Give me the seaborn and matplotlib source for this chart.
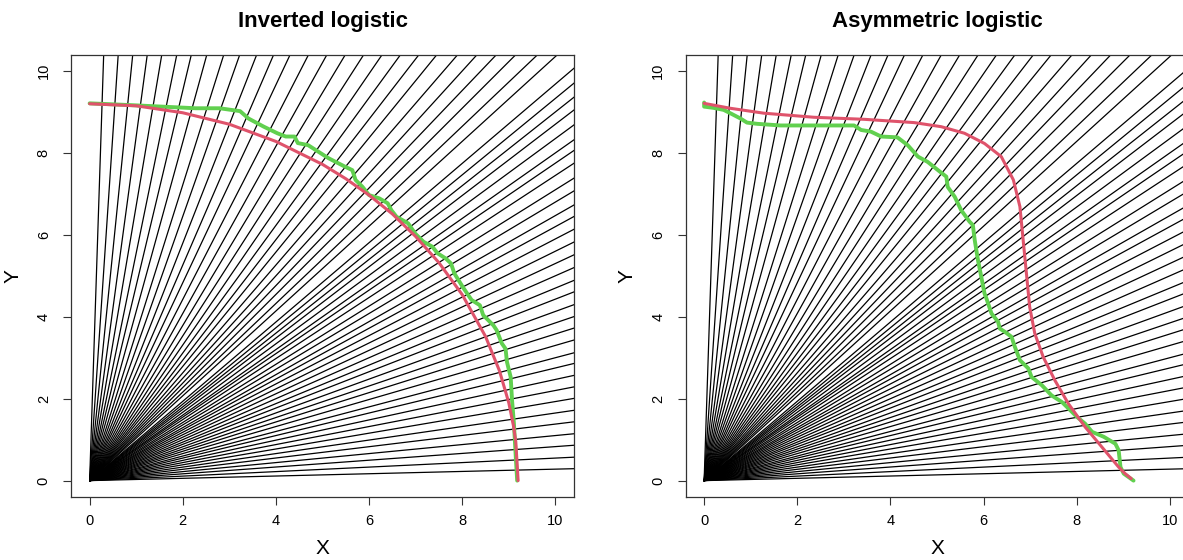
import numpy as np
import pandas as pd
import matplotlib
matplotlib.use("Agg")
import matplotlib.pyplot as plt
import seaborn as sns

# ---------------- data ----------------
titles = ["Inverted logistic", "Asymmetric logistic"]

# rays from the origin: slopes y/x of rays below the diagonal,
# and slopes x/y of rays above the diagonal
ray_slope_low = [0.028, 0.055, 0.083, 0.11, 0.138, 0.165, 0.193, 0.22, 0.247, 0.275,
                 0.30, 0.33, 0.358, 0.385, 0.413, 0.443, 0.47, 0.50, 0.53, 0.56,
                 0.59, 0.62, 0.647, 0.68, 0.71, 0.745, 0.775, 0.80, 0.835, 0.87,
                 0.90, 0.933, 0.968]
ray_slope_high = [0.029, 0.059, 0.089, 0.119, 0.149, 0.18, 0.21, 0.242, 0.277, 0.31,
                  0.345, 0.38, 0.414, 0.452, 0.49, 0.528, 0.566, 0.604, 0.642, 0.68,
                  0.717, 0.76, 0.80, 0.84, 0.88, 0.925, 0.966]

# left panel: true (red) and estimated (green) curves
inv_true_x = [0.0, 1.0, 2.0, 3.0, 4.0, 5.0, 5.5, 6.0, 6.5, 7.0, 7.5, 8.0, 8.5, 8.8, 9.0, 9.1, 9.15, 9.2]
inv_true_y = [9.2, 9.15, 8.98, 8.70, 8.28, 7.72, 7.37, 6.97, 6.51, 5.96, 5.32, 4.54, 3.52, 2.68, 1.90, 1.34, 0.95, 0.0]
inv_est_x = [0.0, 0.82, 1.55, 2.28, 2.79, 3.23, 3.41, 3.74, 4.03, 4.21, 4.40, 4.47, 4.69, 4.91,
             5.13, 5.49, 5.64, 5.71, 5.86, 6.0, 6.22, 6.40, 6.48, 6.59, 6.84, 6.99, 7.17,
             7.36, 7.47, 7.65, 7.76, 7.83, 8.01, 8.20, 8.38, 8.45, 8.67, 8.74, 8.85,
             8.93, 8.96, 9.04, 9.07, 9.11, 9.15, 9.18]
inv_est_y = [9.21, 9.17, 9.13, 9.09, 9.09, 9.02, 8.84, 8.64, 8.48, 8.40, 8.40, 8.24, 8.19, 8.03,
             7.87, 7.66, 7.58, 7.34, 7.17, 6.97, 6.89, 6.77, 6.60, 6.44, 6.28, 6.03, 5.83,
             5.71, 5.55, 5.42, 5.30, 5.06, 4.73, 4.41, 4.28, 4.04, 3.79, 3.67, 3.35,
             3.22, 2.90, 2.53, 1.96, 1.39, 0.58, 0.0]

# right panel: true (red) and estimated (green) curves
alog_true_x = [0.0, 0.56, 1.28, 2.36, 3.44, 4.51, 5.09, 5.59, 6.02, 6.38, 6.64, 6.78, 6.85,
               6.92, 6.99, 7.10, 7.28, 7.53, 7.82, 8.18, 8.54, 8.90, 9.04, 9.17]
alog_true_y = [9.21, 9.09, 8.97, 8.87, 8.82, 8.74, 8.64, 8.48, 8.23, 7.91, 7.34, 6.69, 5.87,
               5.06, 4.24, 3.59, 3.02, 2.45, 1.88, 1.31, 0.82, 0.33, 0.17, 0.05]
alog_est_x = [0.0, 0.0, 0.2, 0.42, 0.56, 0.78, 0.92, 1.14, 1.64, 2.36, 3.22, 3.37, 3.58, 3.80,
              4.15, 4.37, 4.59, 4.80, 5.02, 5.20, 5.23, 5.38, 5.52, 5.70, 5.77, 5.81, 5.88,
              5.95, 6.02, 6.06, 6.17, 6.31, 6.35, 6.46, 6.60, 6.67, 6.78, 6.96, 7.03, 7.25,
              7.46, 7.68, 7.86, 8.0, 8.18, 8.33, 8.58, 8.83, 8.90, 8.94, 9.01, 9.22]
alog_est_y = [9.23, 9.13, 9.10, 9.05, 8.97, 8.84, 8.74, 8.71, 8.67, 8.67, 8.67, 8.56, 8.52, 8.40,
              8.38, 8.19, 7.91, 7.78, 7.58, 7.42, 7.17, 6.93, 6.60, 6.32, 6.24, 5.87, 5.38,
              4.98, 4.57, 4.45, 4.08, 3.88, 3.71, 3.63, 3.51, 3.27, 2.94, 2.74, 2.53, 2.33,
              2.08, 1.92, 1.72, 1.56, 1.39, 1.19, 1.07, 0.90, 0.74, 0.33, 0.17, 0.0]

x_ticks = [0, 2, 4, 6, 8, 10]
y_ticks = [0, 2, 4, 6, 8, 10]

# ---------------- style ----------------
sns.set_theme(style="white")
plt.rcParams["font.family"] = ["Liberation Sans", "DejaVu Sans"]
plt.rcParams["text.color"] = "black"
plt.rcParams["axes.labelcolor"] = "black"
plt.rcParams["xtick.color"] = "black"
plt.rcParams["ytick.color"] = "black"

RED = "#DF536B"
GREEN = "#61D04F"

W, H = 1183, 560
fig = plt.figure(figsize=(W / 100, H / 100), dpi=100)

# ray table
ray_rows = []
L = 30.0
rid = 0
for s in ray_slope_low:
    ray_rows += [(rid, 0.0, 0.0), (rid, L, L * s)]
    rid += 1
for s in ray_slope_high:
    ray_rows += [(rid, 0.0, 0.0), (rid, L * s, L)]
    rid += 1
rays = pd.DataFrame(ray_rows, columns=["ray", "x", "y"])

curves = [
    (inv_true_x, inv_true_y, inv_est_x, inv_est_y),
    (alog_true_x, alog_true_y, alog_est_x, alog_est_y),
]

ax_left_px = [71.0, 685.5]
ax_w_px = 503.0
ax_top_px, ax_bot_px = 54.6, 497.0

for i in range(2):
    x0 = ax_left_px[i] / W
    y0 = (H - ax_bot_px) / H
    ax = fig.add_axes([x0, y0, ax_w_px / W, (ax_bot_px - ax_top_px) / H])
    sns.lineplot(data=rays, x="x", y="y", units="ray", estimator=None, sort=False,
                 color="black", linewidth=0.9, ax=ax, legend=False)
    tx, ty, ex, ey = curves[i]
    sns.lineplot(x=ex, y=ey, sort=False, estimator=None, color=GREEN, linewidth=2.8,
                 ax=ax, legend=False)
    sns.lineplot(x=tx, y=ty, sort=False, estimator=None, color=RED, linewidth=2.2,
                 ax=ax, legend=False)
    ax.set_xlim(-0.4, 10.4)
    ax.set_ylim(-0.4, 10.4)
    ax.set_xticks(x_ticks)
    ax.set_yticks(y_ticks)
    ax.set_xticklabels([str(t) for t in x_ticks], fontsize=10.5)
    ax.set_yticklabels([str(t) for t in y_ticks], fontsize=10.5, rotation=90, va="center")
    ax.tick_params(axis="both", direction="out", length=5.5, width=0.8, color="#333333",
                   bottom=True, left=True, labelcolor="black")
    ax.tick_params(axis="x", pad=7)
    ax.tick_params(axis="y", pad=9)
    ax.set_xlabel("")
    ax.set_ylabel("")
    for sp in ax.spines.values():
        sp.set_visible(True)
        sp.set_color("#333333")
        sp.set_linewidth(0.9)
    cx = (ax_left_px[i] + ax_w_px / 2) / W
    fig.text(cx, 1 - 21 / H, titles[i], ha="center", va="center",
             fontsize=16, fontweight="bold", color="black")
    fig.text(cx, (H - 548) / H, "X", ha="center", va="center", fontsize=15, color="black")
    fig.text((ax_left_px[i] - 58) / W, 1 - ((ax_top_px + ax_bot_px) / 2) / H, "Y",
             ha="center", va="center", fontsize=15, rotation=90, color="black")

fig.savefig("out.png", dpi=100)
